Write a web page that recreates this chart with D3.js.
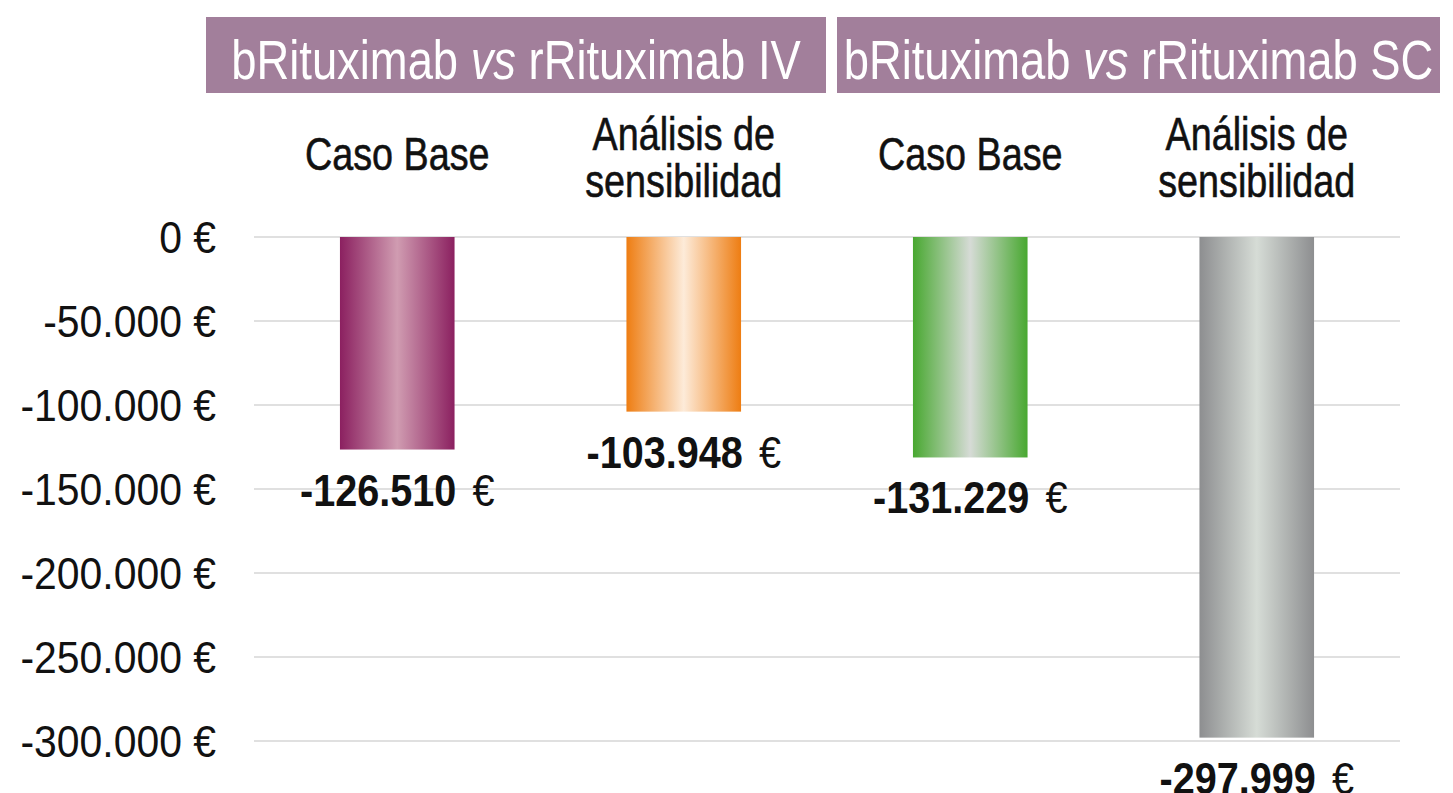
<!DOCTYPE html>
<html>
<head>
<meta charset="utf-8">
<script src="https://cdn.jsdelivr.net/npm/d3@7"></script>
<style>
  body { margin: 0; background: #fff; }
  svg { display: block; }
  text { font-family: "Liberation Sans", Arial, sans-serif; }
</style>
</head>
<body>
<div id="chart"></div>
<script>
// data
const categories = ["IV base", "IV sens", "SC base", "SC sens"];
const labelLines = [["Caso Base"], ["Análisis de", "sensibilidad"], ["Caso Base"], ["Análisis de", "sensibilidad"]];
const values = [-126510, -103948, -131229, -297999];
const yTicks = [0, -50000, -100000, -150000, -200000, -250000, -300000];
const groups = [
  { pre: "bRituximab ", it: "vs", post: " rRituximab IV" },
  { pre: "bRituximab ", it: "vs", post: " rRituximab SC" }
];
const gradients = [
  { edge: "#8b2060", mid: "#d09cb1" },
  { edge: "#ee7d12", mid: "#fdebd9" },
  { edge: "#48a830", mid: "#d6dbd6" },
  { edge: "#8d8e90", mid: "#d6dcd6" }
];

const W = 1453, H = 793;
const plotLeft = 254, plotRight = 1400;

const svg = d3.select("#chart").append("svg")
  .attr("width", W).attr("height", H);

const x = d3.scaleBand()
  .domain(categories)
  .range([plotLeft, plotRight])
  .paddingInner(0.6)
  .paddingOuter(0.3);

const y = d3.scaleLinear()
  .domain([0, -300000])
  .range([237, 741]);

const locale = d3.formatLocale({ decimal: ",", thousands: ".", grouping: [3], currency: ["", " €"], minus: "-" });
const fmt = locale.format(",");

// gradients
const defs = svg.append("defs");
gradients.forEach((g, i) => {
  const lg = defs.append("linearGradient")
    .attr("id", "grad" + i)
    .attr("x1", "0%").attr("x2", "100%").attr("y1", "0%").attr("y2", "0%");
  lg.append("stop").attr("offset", "0%").attr("stop-color", g.edge);
  lg.append("stop").attr("offset", "50%").attr("stop-color", g.mid);
  lg.append("stop").attr("offset", "100%").attr("stop-color", g.edge);
});

// grid
svg.append("g")
  .selectAll("line")
  .data(yTicks)
  .join("line")
  .attr("x1", plotLeft).attr("x2", plotRight)
  .attr("y1", d => y(d)).attr("y2", d => y(d))
  .attr("stroke", "#e0e0e0")
  .attr("stroke-width", 2);

// y axis labels (scaled horizontally around the right edge)
const yAxis = svg.append("g")
  .attr("transform", `translate(216,0) scale(0.93,1)`)
  .call(d3.axisLeft(y).tickValues(yTicks).tickSize(0).tickPadding(0)
    .tickFormat(d => fmt(d) + " €"));
yAxis.select(".domain").remove();
yAxis.selectAll("text")
  .attr("font-size", 44)
  .attr("dy", "0.36em")
  .attr("fill", "#111")
  .style("font-family", "'Liberation Sans', Arial, sans-serif");

// bars
svg.append("g")
  .selectAll("rect")
  .data(values)
  .join("rect")
  .attr("x", (d, i) => x(categories[i]))
  .attr("width", x.bandwidth())
  .attr("y", y(0))
  .attr("height", d => y(d) - y(0))
  .attr("fill", (d, i) => `url(#grad${i})`);

// value labels
const vl = svg.append("g")
  .selectAll("text")
  .data(values)
  .join("text")
  .attr("transform", (d, i) => `translate(${x(categories[i]) + x.bandwidth() / 2},${y(d) + 56}) scale(0.88,1)`)
  .attr("text-anchor", "middle")
  .attr("font-size", 45)
  .attr("fill", "#111");
vl.append("tspan").attr("font-weight", "bold").text(d => fmt(d));
vl.append("tspan").attr("dx", 6).text(" €");

// category labels
const cl = svg.append("g")
  .selectAll("text")
  .data(labelLines)
  .join("text")
  .attr("transform", (d, i) => `translate(${x(categories[i]) + x.bandwidth() / 2},${d.length === 1 ? 170 : 150}) scale(0.82,1)`)
  .attr("text-anchor", "middle")
  .attr("font-size", 46)
  .attr("fill", "#111")
  .style("paint-order", "stroke")
  .attr("stroke", "#111")
  .attr("stroke-width", 0.6);
cl.selectAll("tspan")
  .data(d => d)
  .join("tspan")
  .attr("x", 0)
  .attr("dy", (d, i) => i === 0 ? 0 : 47)
  .text(d => d);

// group header boxes
const boxes = [[206, 826], [837, 1440]];
const hg = svg.append("g")
  .selectAll("g")
  .data(groups)
  .join("g");
hg.append("rect")
  .attr("x", (d, i) => boxes[i][0])
  .attr("width", (d, i) => boxes[i][1] - boxes[i][0])
  .attr("y", 17).attr("height", 76)
  .attr("fill", "#a27f9b");
const ht = hg.append("text")
  .attr("transform", (d, i) => `translate(${(boxes[i][0] + boxes[i][1]) / 2},79) scale(0.81,1)`)
  .attr("text-anchor", "middle")
  .attr("font-size", 56)
  .attr("fill", "#fff");
ht.append("tspan").text(d => d.pre);
ht.append("tspan").attr("font-style", "italic").text(d => d.it);
ht.append("tspan").text(d => d.post);
</script>
</body>
</html>
